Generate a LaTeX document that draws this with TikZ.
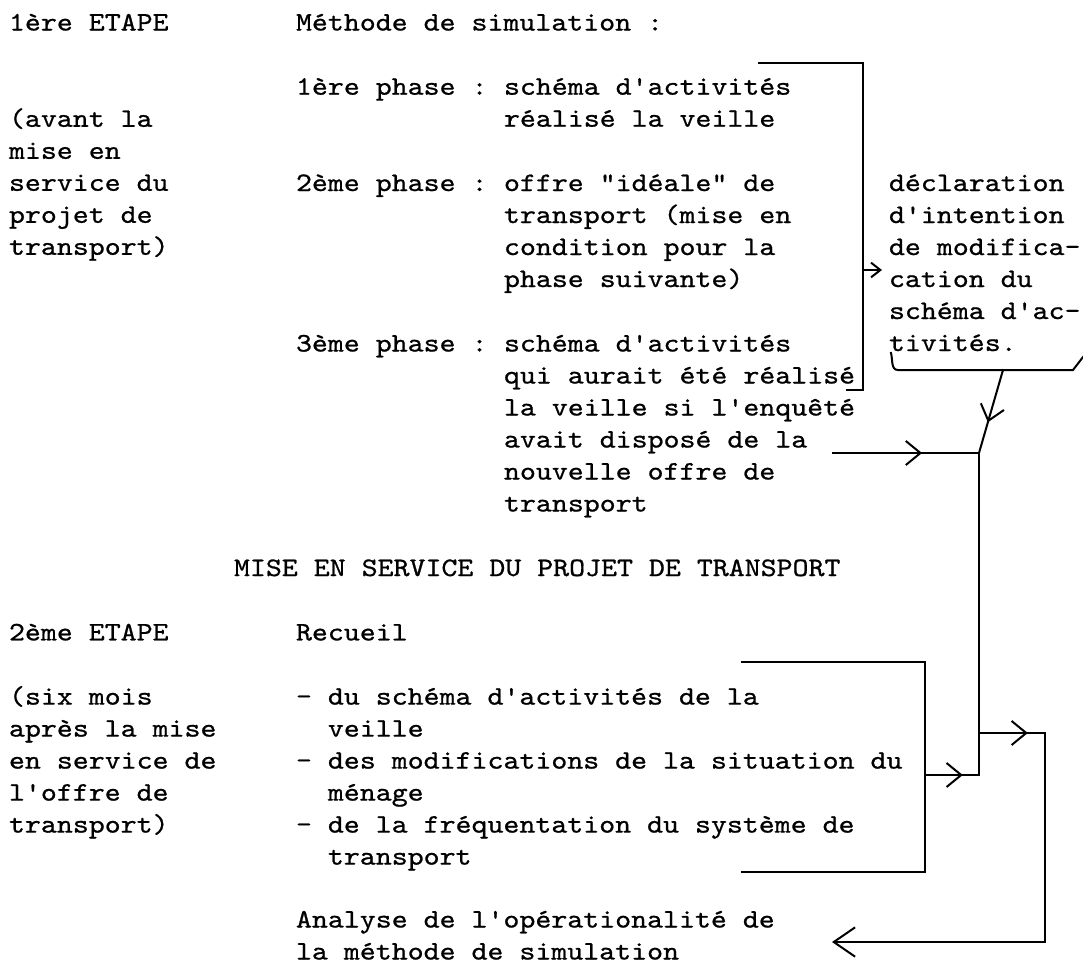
\documentclass[tikz,border=0pt]{standalone}
\usepackage{fontspec}
\newfontfamily\typewrfont{lmmono10-regular.otf}[FakeStretch=1.14,FakeBold=0.8]
\usetikzlibrary{arrows.meta, decorations.markings}
\newcommand\typewr{\typewrfont\fontsize{20}{24}\selectfont}

\begin{document}
\begin{tikzpicture}[x=0.75pt,y=-0.75pt,line width=1.5pt,line cap=rect,
  txt/.style={anchor=north west,inner sep=0pt,align=left,yshift=16.8pt,font=\typewr},
  barb/.tip={Straight Barb[length=11pt,width=18pt]},
  smallbarb/.tip={Straight Barb[length=7pt,width=11pt]},
  bigbarb/.tip={Straight Barb[length=16pt,width=22pt]},
  midarrow/.style={postaction={decorate},
    decoration={markings,mark=at position #1 with {\arrow{barb}}}}]
  \useasboundingbox (0,0) rectangle (1083,965);

  % texts
  \node[txt] (etape1) at (8,29.5) {\strut 1ère ETAPE};
  \node[txt] (methode) at (295,29.5) {\strut Méthode de simulation :};
  \node[txt] (phase1lbl) at (295,93.7) {\strut 1ère phase :};
  \node[txt] (phase1) at (503,93.7) {\strut schéma d'activités\\réalisé la veille};
  \node[txt] (avant) at (8,125.8) {\strut (avant la\\mise en\\service du\\projet de\\transport)};
  \node[txt] (phase2lbl) at (295,190) {\strut 2ème phase :};
  \node[txt] (phase2) at (503,190) {\strut offre "idéale" de\\transport (mise en\\condition pour la\\phase suivante)};
  \node[txt] (decl) at (888,190) {\strut déclaration\\d'intention\\de modifica-\\cation du\\schéma d'ac-\\tivités.};
  \node[txt] (phase3lbl) at (295,350.5) {\strut 3ème phase :};
  \node[txt] (phase3) at (503,350.5) {\strut schéma d'activités\\qui aurait été réalisé\\la veille si l'enquêté\\avait disposé de la\\nouvelle offre de\\transport};
  \node[txt] (mise) at (233,575) {\strut MISE EN SERVICE DU PROJET DE TRANSPORT};
  \node[txt] (etape2) at (8,639.4) {\strut 2ème ETAPE};
  \node[txt] (recueil) at (295,639.4) {\strut Recueil};
  \node[txt] (sixmois) at (8,703.6) {\strut (six mois\\après la mise\\en service de\\l'offre de\\transport)};
  \node[txt] (items) at (295,703.6) {\strut - du schéma d'activités de la\\\phantom{- }veille\\- des modifications de la situation du\\\phantom{- }ménage\\- de la fréquentation du système de\\\phantom{- }transport};
  \node[txt] (analyse) at (295,926.5) {\strut Analyse de l'opérationalité de\\la méthode de simulation};

  % bracket points
  \coordinate (b1a) at (759,63);
  \coordinate (b1c) at (863,390);
  \coordinate (b1d) at (847,390);
  \coordinate (b1out) at (863,270);
  \coordinate (declin) at (882,270);
  \coordinate (bra) at (891,353);
  \coordinate (brb) at (898,370);
  \coordinate (brmid) at (1003,370);
  \coordinate (brc) at (1073,370);
  \coordinate (brd) at (1083,357);
  \coordinate (p3out) at (833,453);
  \coordinate (trtop) at (979,453);
  \coordinate (trmid) at (979,733);
  \coordinate (trbot) at (979,775);
  \coordinate (b2a) at (742,662);
  \coordinate (b2c) at (925,872);
  \coordinate (b2d) at (742,872);
  \coordinate (b2out) at (925,775);
  \coordinate (retb) at (1045,733);
  \coordinate (anain) at (832,942);

  % connectors
  \draw (b1a) -| (b1c) -- (b1d);
  \draw[-smallbarb] (b1out) -- (declin);
  \draw (bra) to[out=-75,in=180] (brb) -- (brc) -- (brd);
  \draw[midarrow=0.63] (brmid) -- (trtop);
  \draw[midarrow=0.61] (p3out) -- (trtop);
  \draw (trtop) -- (trbot);
  \draw (b2a) -| (b2c) -- (b2d);
  \draw[midarrow=0.7] (b2out) -- (trbot);
  \draw[midarrow=0.74] (trmid) -- (retb);
  \draw[-bigbarb] (retb) |- (anain);
\end{tikzpicture}
\end{document}
